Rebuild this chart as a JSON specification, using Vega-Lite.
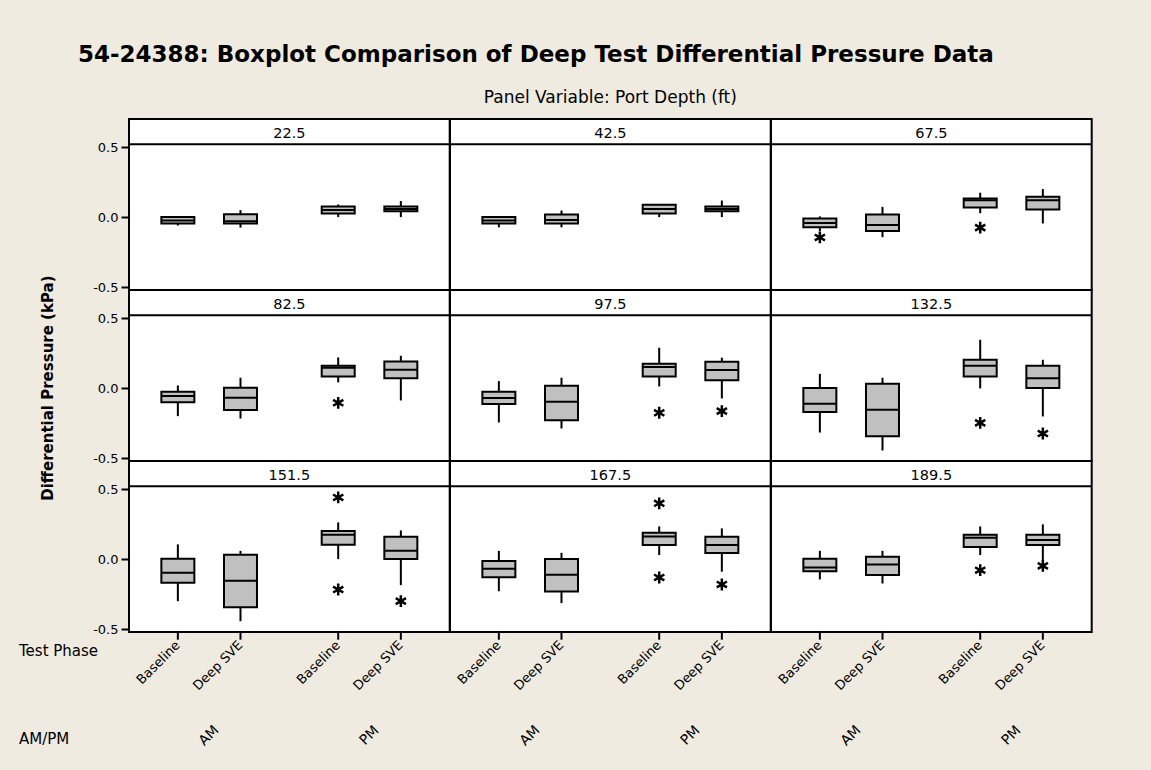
{
  "$schema": "https://vega.github.io/schema/vega-lite/v6.json",
  "background": "#EFEBE1",
  "padding": {"left": 18, "top": 43, "right": 70, "bottom": 40},
  "title": {
    "text": "54-24388: Boxplot Comparison of Deep Test Differential Pressure Data",
    "font": "DejaVu Sans",
    "fontSize": 23,
    "fontWeight": "bold",
    "color": "black",
    "anchor": "start",
    "dx": 60,
    "offset": 20
  },
  "data": {
    "values": [
      {"depth": 22.5, "ampm": "AM", "phase": "Baseline", "lo": -0.06, "q1": -0.045, "med": -0.025, "q3": 0.0, "hi": 0.0},
      {"depth": 22.5, "ampm": "AM", "phase": "Deep SVE", "lo": -0.075, "q1": -0.045, "med": -0.03, "q3": 0.02, "hi": 0.05},
      {"depth": 22.5, "ampm": "PM", "phase": "Baseline", "lo": 0.0, "q1": 0.026, "med": 0.05, "q3": 0.075, "hi": 0.09},
      {"depth": 22.5, "ampm": "PM", "phase": "Deep SVE", "lo": 0.0, "q1": 0.042, "med": 0.058, "q3": 0.075, "hi": 0.115},
      {"depth": 42.5, "ampm": "AM", "phase": "Baseline", "lo": -0.073, "q1": -0.045, "med": -0.025, "q3": 0.0, "hi": 0.0},
      {"depth": 42.5, "ampm": "AM", "phase": "Deep SVE", "lo": -0.073, "q1": -0.045, "med": -0.02, "q3": 0.019, "hi": 0.047},
      {"depth": 42.5, "ampm": "PM", "phase": "Baseline", "lo": 0.0, "q1": 0.026, "med": 0.058, "q3": 0.089, "hi": 0.089},
      {"depth": 42.5, "ampm": "PM", "phase": "Deep SVE", "lo": 0.0, "q1": 0.042, "med": 0.058, "q3": 0.075, "hi": 0.118},
      {"depth": 67.5, "ampm": "AM", "phase": "Baseline", "lo": -0.1, "q1": -0.073, "med": -0.042, "q3": -0.009, "hi": 0.005},
      {"depth": 67.5, "ampm": "AM", "phase": "Deep SVE", "lo": -0.143, "q1": -0.099, "med": -0.056, "q3": 0.019, "hi": 0.073},
      {"depth": 67.5, "ampm": "PM", "phase": "Baseline", "lo": 0.028, "q1": 0.068, "med": 0.12, "q3": 0.132, "hi": 0.174},
      {"depth": 67.5, "ampm": "PM", "phase": "Deep SVE", "lo": -0.045, "q1": 0.054, "med": 0.12, "q3": 0.146, "hi": 0.2},
      {"depth": 82.5, "ampm": "AM", "phase": "Baseline", "lo": -0.2, "q1": -0.1, "med": -0.057, "q3": -0.026, "hi": 0.019},
      {"depth": 82.5, "ampm": "AM", "phase": "Deep SVE", "lo": -0.217, "q1": -0.157, "med": -0.069, "q3": 0.002, "hi": 0.074},
      {"depth": 82.5, "ampm": "PM", "phase": "Baseline", "lo": 0.041, "q1": 0.083, "med": 0.145, "q3": 0.159, "hi": 0.219},
      {"depth": 82.5, "ampm": "PM", "phase": "Deep SVE", "lo": -0.088, "q1": 0.071, "med": 0.131, "q3": 0.19, "hi": 0.231},
      {"depth": 97.5, "ampm": "AM", "phase": "Baseline", "lo": -0.245, "q1": -0.114, "med": -0.071, "q3": -0.026, "hi": 0.05},
      {"depth": 97.5, "ampm": "AM", "phase": "Deep SVE", "lo": -0.288, "q1": -0.229, "med": -0.098, "q3": 0.017, "hi": 0.074},
      {"depth": 97.5, "ampm": "PM", "phase": "Baseline", "lo": 0.012, "q1": 0.083, "med": 0.15, "q3": 0.174, "hi": 0.288},
      {"depth": 97.5, "ampm": "PM", "phase": "Deep SVE", "lo": -0.074, "q1": 0.057, "med": 0.129, "q3": 0.188, "hi": 0.217},
      {"depth": 132.5, "ampm": "AM", "phase": "Baseline", "lo": -0.317, "q1": -0.171, "med": -0.112, "q3": 0.0, "hi": 0.102},
      {"depth": 132.5, "ampm": "AM", "phase": "Deep SVE", "lo": -0.445, "q1": -0.343, "med": -0.155, "q3": 0.031, "hi": 0.074},
      {"depth": 132.5, "ampm": "PM", "phase": "Baseline", "lo": -0.002, "q1": 0.083, "med": 0.159, "q3": 0.202, "hi": 0.345},
      {"depth": 132.5, "ampm": "PM", "phase": "Deep SVE", "lo": -0.202, "q1": 0.0, "med": 0.071, "q3": 0.159, "hi": 0.202},
      {"depth": 151.5, "ampm": "AM", "phase": "Baseline", "lo": -0.3, "q1": -0.169, "med": -0.098, "q3": 0.002, "hi": 0.105},
      {"depth": 151.5, "ampm": "AM", "phase": "Deep SVE", "lo": -0.443, "q1": -0.343, "med": -0.155, "q3": 0.031, "hi": 0.059},
      {"depth": 151.5, "ampm": "PM", "phase": "Baseline", "lo": 0.0, "q1": 0.102, "med": 0.174, "q3": 0.2, "hi": 0.262},
      {"depth": 151.5, "ampm": "PM", "phase": "Deep SVE", "lo": -0.186, "q1": 0.0, "med": 0.059, "q3": 0.159, "hi": 0.205},
      {"depth": 167.5, "ampm": "AM", "phase": "Baseline", "lo": -0.229, "q1": -0.129, "med": -0.069, "q3": -0.014, "hi": 0.059},
      {"depth": 167.5, "ampm": "AM", "phase": "Deep SVE", "lo": -0.314, "q1": -0.231, "med": -0.112, "q3": 0.0, "hi": 0.045},
      {"depth": 167.5, "ampm": "PM", "phase": "Baseline", "lo": 0.029, "q1": 0.1, "med": 0.162, "q3": 0.188, "hi": 0.233},
      {"depth": 167.5, "ampm": "PM", "phase": "Deep SVE", "lo": -0.09, "q1": 0.043, "med": 0.1, "q3": 0.159, "hi": 0.219},
      {"depth": 189.5, "ampm": "AM", "phase": "Baseline", "lo": -0.145, "q1": -0.086, "med": -0.059, "q3": 0.002, "hi": 0.059},
      {"depth": 189.5, "ampm": "AM", "phase": "Deep SVE", "lo": -0.174, "q1": -0.114, "med": -0.038, "q3": 0.017, "hi": 0.059},
      {"depth": 189.5, "ampm": "PM", "phase": "Baseline", "lo": 0.029, "q1": 0.086, "med": 0.152, "q3": 0.174, "hi": 0.233},
      {"depth": 189.5, "ampm": "PM", "phase": "Deep SVE", "lo": -0.007, "q1": 0.1, "med": 0.136, "q3": 0.174, "hi": 0.248},
      {"depth": 67.5, "ampm": "AM", "phase": "Baseline", "out": -0.145},
      {"depth": 67.5, "ampm": "PM", "phase": "Baseline", "out": -0.075},
      {"depth": 82.5, "ampm": "PM", "phase": "Baseline", "out": -0.105},
      {"depth": 97.5, "ampm": "PM", "phase": "Baseline", "out": -0.176},
      {"depth": 97.5, "ampm": "PM", "phase": "Deep SVE", "out": -0.164},
      {"depth": 132.5, "ampm": "PM", "phase": "Baseline", "out": -0.248},
      {"depth": 132.5, "ampm": "PM", "phase": "Deep SVE", "out": -0.324},
      {"depth": 151.5, "ampm": "PM", "phase": "Baseline", "out": 0.44},
      {"depth": 151.5, "ampm": "PM", "phase": "Baseline", "out": -0.217},
      {"depth": 151.5, "ampm": "PM", "phase": "Deep SVE", "out": -0.3},
      {"depth": 167.5, "ampm": "PM", "phase": "Baseline", "out": 0.398},
      {"depth": 167.5, "ampm": "PM", "phase": "Baseline", "out": -0.131},
      {"depth": 167.5, "ampm": "PM", "phase": "Deep SVE", "out": -0.181},
      {"depth": 189.5, "ampm": "PM", "phase": "Baseline", "out": -0.079},
      {"depth": 189.5, "ampm": "PM", "phase": "Deep SVE", "out": -0.048}
    ]
  },
  "facet": {"field": "depth", "type": "ordinal", "title": null, "header": {"title": null, "labelExpr": "''", "labelColor": "transparent", "labelFontSize": 1, "labelPadding": 0}},
  "columns": 3,
  "spacing": 0,
  "bounds": "flush",
  "spec": {
    "width": 320.7,
    "height": 171,
    "layer": [
      {
        "transform": [{"filter": "isValid(datum.q1)"}],
        "mark": {"type": "rule", "stroke": "black", "strokeWidth": 2},
        "encoding": {
          "x": {"field": "ampm", "type": "nominal", "scale": {"domain": ["AM", "PM"], "paddingInner": 0, "paddingOuter": 0}, "axis": null},
          "xOffset": {"field": "phase", "type": "nominal", "scale": {"domain": ["Baseline", "Deep SVE"], "paddingInner": 0, "paddingOuter": 0.28}},
          "y": {"field": "lo", "type": "quantitative", "scale": {"domain": [-0.52, 0.7], "nice": false, "zero": false}, "axis": {"title": null, "values": [-0.5, 0, 0.5], "format": ".1f", "labelExpr": "replace(datum.label, '−', '-')"}},
          "y2": {"field": "hi"}
        }
      },
      {
        "transform": [{"filter": "isValid(datum.q1)"}],
        "mark": {"type": "bar", "fill": "#C0C0C0", "stroke": "black", "strokeWidth": 2, "width": 33},
        "encoding": {
          "x": {"field": "ampm", "type": "nominal", "scale": {"domain": ["AM", "PM"], "paddingInner": 0, "paddingOuter": 0}, "axis": null},
          "xOffset": {"field": "phase", "type": "nominal", "scale": {"domain": ["Baseline", "Deep SVE"], "paddingInner": 0, "paddingOuter": 0.28}},
          "y": {"field": "q1", "type": "quantitative", "scale": {"domain": [-0.52, 0.7], "nice": false, "zero": false}, "axis": {"title": null, "values": [-0.5, 0, 0.5], "format": ".1f", "labelExpr": "replace(datum.label, '−', '-')"}},
          "y2": {"field": "q3"}
        }
      },
      {
        "transform": [{"filter": "isValid(datum.q1)"}],
        "mark": {"type": "tick", "color": "black", "thickness": 2, "size": 33, "opacity": 1},
        "encoding": {
          "x": {"field": "ampm", "type": "nominal", "scale": {"domain": ["AM", "PM"], "paddingInner": 0, "paddingOuter": 0}, "axis": null},
          "xOffset": {"field": "phase", "type": "nominal", "scale": {"domain": ["Baseline", "Deep SVE"], "paddingInner": 0, "paddingOuter": 0.28}},
          "y": {"field": "med", "type": "quantitative", "scale": {"domain": [-0.52, 0.7], "nice": false, "zero": false}, "axis": {"title": null, "values": [-0.5, 0, 0.5], "format": ".1f", "labelExpr": "replace(datum.label, '−', '-')"}}
        }
      },
      {
        "transform": [{"filter": "isValid(datum.out)"}],
        "mark": {"type": "point", "shape": "M0,-1L0,1M-0.866,-0.5L0.866,0.5M-0.866,0.5L0.866,-0.5", "size": 140, "stroke": "black", "strokeWidth": 2.5, "filled": false, "opacity": 1},
        "encoding": {
          "x": {"field": "ampm", "type": "nominal", "scale": {"domain": ["AM", "PM"], "paddingInner": 0, "paddingOuter": 0}, "axis": null},
          "xOffset": {"field": "phase", "type": "nominal", "scale": {"domain": ["Baseline", "Deep SVE"], "paddingInner": 0, "paddingOuter": 0.28}},
          "y": {"field": "out", "type": "quantitative", "scale": {"domain": [-0.52, 0.7], "nice": false, "zero": false}, "axis": {"title": null, "values": [-0.5, 0, 0.5], "format": ".1f", "labelExpr": "replace(datum.label, '−', '-')"}}
        }
      },
      {
        "transform": [{"filter": "isValid(datum.q1) && datum.ampm == 'AM' && datum.phase == 'Baseline'"}],
        "mark": {"type": "rule", "stroke": "black", "strokeWidth": 2},
        "encoding": {
          "y": {"datum": 0.52, "type": "quantitative", "scale": {"domain": [-0.52, 0.7], "nice": false, "zero": false}, "axis": {"title": null, "values": [-0.5, 0, 0.5], "format": ".1f", "labelExpr": "replace(datum.label, '−', '-')"}}
        }
      },
      {
        "transform": [{"filter": "isValid(datum.q1) && datum.ampm == 'AM' && datum.phase == 'Baseline'"}],
        "mark": {"type": "text", "fontSize": 14.5, "font": "DejaVu Sans", "color": "black", "baseline": "middle", "align": "center"},
        "encoding": {
          "y": {"datum": 0.59, "type": "quantitative", "scale": {"domain": [-0.52, 0.7], "nice": false, "zero": false}, "axis": {"title": null, "values": [-0.5, 0, 0.5], "format": ".1f", "labelExpr": "replace(datum.label, '−', '-')"}},
          "text": {"field": "depth", "type": "quantitative", "format": ".1f"}
        }
      },
      {
        "transform": [{"filter": "isValid(datum.q1) && datum.depth == 42.5 && datum.ampm == 'AM' && datum.phase == 'Baseline'"}],
        "mark": {"type": "text", "fontSize": 17, "font": "DejaVu Sans", "color": "black", "baseline": "middle", "align": "center"},
        "encoding": {
          "y": {"datum": 0.85, "type": "quantitative", "scale": {"domain": [-0.52, 0.7], "nice": false, "zero": false}, "axis": {"title": null, "values": [-0.5, 0, 0.5], "format": ".1f", "labelExpr": "replace(datum.label, '−', '-')"}},
          "text": {"value": "Panel Variable: Port Depth (ft)"}
        }
      },
      {
        "transform": [{"filter": "isValid(datum.q1) && datum.depth == 82.5 && datum.ampm == 'AM' && datum.phase == 'Baseline'"}],
        "mark": {"type": "text", "fontSize": 15, "font": "DejaVu Sans", "fontWeight": "bold", "color": "black", "baseline": "middle", "align": "center", "angle": -90, "dy": -81},
        "encoding": {
          "x": {"datum": "AM", "type": "nominal", "bandPosition": 0, "scale": {"domain": ["AM", "PM"], "paddingInner": 0, "paddingOuter": 0}, "axis": null},
          "y": {"datum": 0, "type": "quantitative", "scale": {"domain": [-0.52, 0.7], "nice": false, "zero": false}, "axis": {"title": null, "values": [-0.5, 0, 0.5], "format": ".1f", "labelExpr": "replace(datum.label, '−', '-')"}},
          "text": {"value": "Differential Pressure (kPa)"}
        }
      },
      {
        "transform": [{"filter": "isValid(datum.q1) && datum.depth > 140"}],
        "mark": {"type": "rule", "stroke": "black", "strokeWidth": 2},
        "encoding": {
          "x": {"field": "ampm", "type": "nominal", "scale": {"domain": ["AM", "PM"], "paddingInner": 0, "paddingOuter": 0}, "axis": null},
          "xOffset": {"field": "phase", "type": "nominal", "scale": {"domain": ["Baseline", "Deep SVE"], "paddingInner": 0, "paddingOuter": 0.28}},
          "y": {"datum": -0.52, "type": "quantitative", "scale": {"domain": [-0.52, 0.7], "nice": false, "zero": false}, "axis": {"title": null, "values": [-0.5, 0, 0.5], "format": ".1f", "labelExpr": "replace(datum.label, '−', '-')"}},
          "y2": {"datum": -0.575}
        }
      },
      {
        "transform": [{"filter": "isValid(datum.q1) && datum.depth > 140"}],
        "mark": {"type": "text", "fontSize": 13, "font": "DejaVu Sans", "color": "black", "angle": -45, "align": "right", "baseline": "middle"},
        "encoding": {
          "x": {"field": "ampm", "type": "nominal", "scale": {"domain": ["AM", "PM"], "paddingInner": 0, "paddingOuter": 0}, "axis": null},
          "xOffset": {"field": "phase", "type": "nominal", "scale": {"domain": ["Baseline", "Deep SVE"], "paddingInner": 0, "paddingOuter": 0.28}},
          "y": {"datum": -0.6, "type": "quantitative", "scale": {"domain": [-0.52, 0.7], "nice": false, "zero": false}, "axis": {"title": null, "values": [-0.5, 0, 0.5], "format": ".1f", "labelExpr": "replace(datum.label, '−', '-')"}},
          "text": {"field": "phase", "type": "nominal"}
        }
      },
      {
        "transform": [{"filter": "isValid(datum.q1) && datum.depth > 140 && datum.phase == 'Baseline'"}],
        "mark": {"type": "text", "fontSize": 14, "font": "DejaVu Sans", "color": "black", "angle": -45, "align": "center", "baseline": "middle"},
        "encoding": {
          "x": {"field": "ampm", "type": "nominal", "scale": {"domain": ["AM", "PM"], "paddingInner": 0, "paddingOuter": 0}, "axis": null},
          "y": {"datum": -1.26, "type": "quantitative", "scale": {"domain": [-0.52, 0.7], "nice": false, "zero": false}, "axis": {"title": null, "values": [-0.5, 0, 0.5], "format": ".1f", "labelExpr": "replace(datum.label, '−', '-')"}},
          "text": {"field": "ampm", "type": "nominal"}
        }
      },
      {
        "transform": [{"filter": "isValid(datum.q1) && datum.depth == 151.5 && datum.ampm == 'AM' && datum.phase == 'Baseline'"}],
        "mark": {"type": "text", "fontSize": 15, "font": "DejaVu Sans", "color": "black", "align": "left", "baseline": "middle", "dx": -110},
        "encoding": {
          "x": {"datum": "AM", "type": "nominal", "bandPosition": 0, "scale": {"domain": ["AM", "PM"], "paddingInner": 0, "paddingOuter": 0}, "axis": null},
          "y": {"datum": -0.656, "type": "quantitative", "scale": {"domain": [-0.52, 0.7], "nice": false, "zero": false}, "axis": {"title": null, "values": [-0.5, 0, 0.5], "format": ".1f", "labelExpr": "replace(datum.label, '−', '-')"}},
          "text": {"value": "Test Phase"}
        }
      },
      {
        "transform": [{"filter": "isValid(datum.q1) && datum.depth == 151.5 && datum.ampm == 'AM' && datum.phase == 'Baseline'"}],
        "mark": {"type": "text", "fontSize": 15, "font": "DejaVu Sans", "color": "black", "align": "left", "baseline": "middle", "dx": -110},
        "encoding": {
          "x": {"datum": "AM", "type": "nominal", "bandPosition": 0, "scale": {"domain": ["AM", "PM"], "paddingInner": 0, "paddingOuter": 0}, "axis": null},
          "y": {"datum": -1.28, "type": "quantitative", "scale": {"domain": [-0.52, 0.7], "nice": false, "zero": false}, "axis": {"title": null, "values": [-0.5, 0, 0.5], "format": ".1f", "labelExpr": "replace(datum.label, '−', '-')"}},
          "text": {"value": "AM/PM"}
        }
      }
    ]
  },
  "config": {
    "font": "DejaVu Sans",
    "view": {"stroke": "black", "strokeWidth": 2, "fill": "white"},
    "axis": {
      "grid": false,
      "domain": false,
      "tickSize": 8,
      "tickWidth": 2,
      "tickColor": "black",
      "labelFont": "DejaVu Sans",
      "labelFontSize": 13,
      "labelColor": "black",
      "labelPadding": 3,
      "titleFont": "DejaVu Sans",
      "titleFontSize": 15,
      "titleFontWeight": "bold",
      "titleColor": "black"
    }
  }
}
